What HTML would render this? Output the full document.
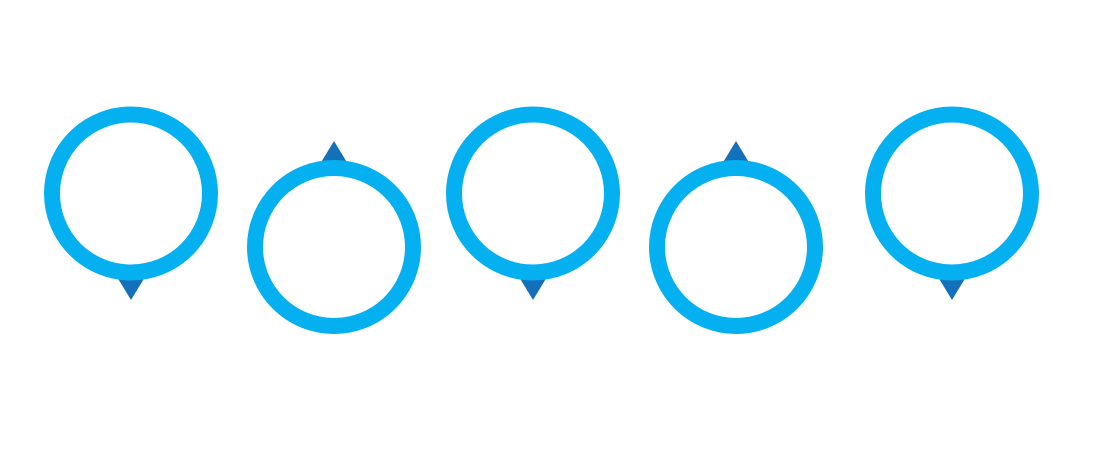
<!DOCTYPE html>
<html><head><style>html,body{margin:0;padding:0;background:#fff;}svg{display:block;}</style></head>
<body>
<svg width="1120" height="450" viewBox="0 0 1120 450" xmlns="http://www.w3.org/2000/svg">
<g fill="#1570bb">
<polygon points="114,272 148,272 131,300"/>
<polygon points="516,272 550,272 533,300"/>
<polygon points="935,272 969,272 952,300"/>
<polygon points="317,169 351,169 334,141"/>
<polygon points="719,169 753,169 736,141"/>
</g>
<g fill="none" stroke="#05b0f0" stroke-width="16">
<circle cx="131" cy="193.5" r="79"/>
<circle cx="334" cy="247" r="79"/>
<circle cx="533" cy="193.5" r="79"/>
<circle cx="736" cy="247" r="79"/>
<circle cx="952" cy="193.5" r="79"/>
</g>
</svg>
</body></html>
